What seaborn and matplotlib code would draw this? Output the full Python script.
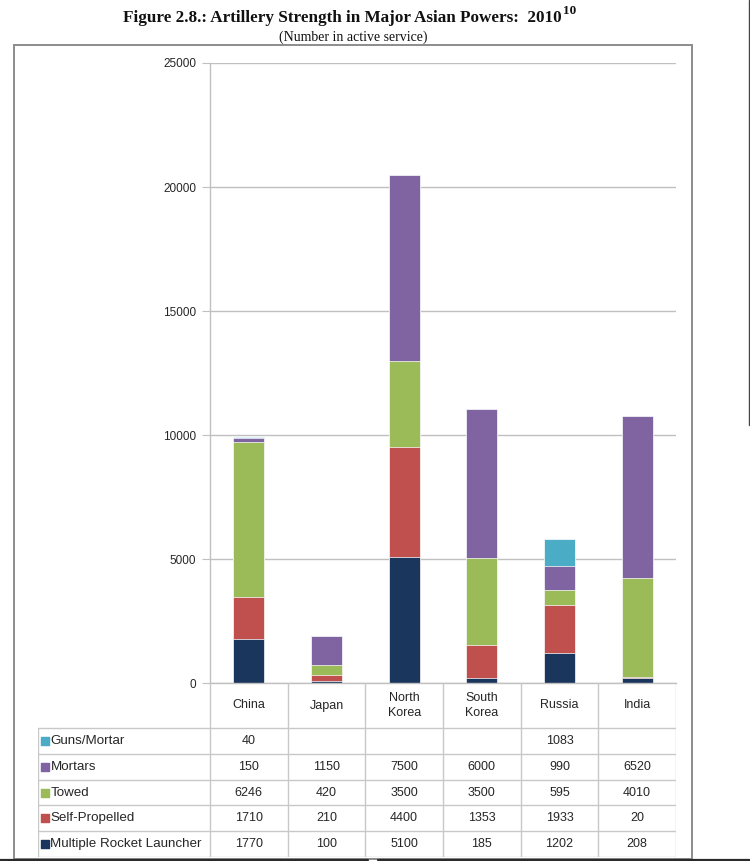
import matplotlib
matplotlib.use('Agg')
import matplotlib.pyplot as plt
import seaborn as sns
import numpy as np
from matplotlib.patches import Rectangle
from matplotlib.lines import Line2D

# --- data ---
countries = ['China', 'Japan', 'North\nKorea', 'South\nKorea', 'Russia', 'India']
series = ['Guns/Mortar', 'Mortars', 'Towed', 'Self-Propelled', 'Multiple Rocket Launcher']
guns = [40, None, None, None, 1083, None]
mortars = [150, 1150, 7500, 6000, 990, 6520]
towed = [6246, 420, 3500, 3500, 595, 4010]
self_prop = [1710, 210, 4400, 1353, 1933, 20]
mrl = [1770, 100, 5100, 185, 1202, 208]
colors = ['#4BACC6', '#8064A2', '#9BBB59', '#C0504D', '#1B365D']

yticks = [0, 5000, 10000, 15000, 20000, 25000]

sns.set_style("white")
plt.rcParams['font.family'] = ['Liberation Sans', 'DejaVu Sans']

W, H = 750, 861
fig = plt.figure(figsize=(W / 100, H / 100), dpi=100)


def fx(x):
    return x / W


def fy(y):
    return 1 - y / H


# outer frame of the chart
fig.patches.append(Rectangle((fx(14), fy(859)), fx(692) - fx(14), fy(45) - fy(859),
                             transform=fig.transFigure, fill=False,
                             edgecolor='#8c8c8c', lw=1.4))
# scan edges
fig.lines.append(Line2D([0, fx(368)], [fy(859.5)] * 2, transform=fig.transFigure, color='#2a2a2a', lw=1.6))
fig.lines.append(Line2D([fx(378), 1], [fy(859.5)] * 2, transform=fig.transFigure, color='#2a2a2a', lw=1.6))
fig.lines.append(Line2D([fx(748.5)] * 2, [fy(0), fy(425)], transform=fig.transFigure, color='#444444', lw=1))

# title
t = fig.text(fx(123), fy(18.5), 'Figure 2.8.: Artillery Strength in Major Asian Powers:  2010',
             family=['Liberation Serif'], weight='bold', fontsize=12.3,
             ha='left', va='center', color='#111111')
fig.canvas.draw()
bb = t.get_window_extent()
fig.text(bb.x1 / W + 0.002, fy(11.5), '10', family=['Liberation Serif'], weight='bold',
         fontsize=9.5, ha='left', va='center', color='#111111')
fig.text(fx(353), fy(37), '(Number in active service)', family=['Liberation Serif'],
         fontsize=10, ha='center', va='center', color='#111111')

# --- stacked bars (cumulative, drawn from top layer down) ---
ax = fig.add_axes([fx(210), fy(683), fx(676) - fx(210), fy(63) - fy(683)])
layers = [mrl, self_prop, towed, mortars, guns]  # bottom -> top
layer_colors = colors[::-1]
vals = np.array([[v if v is not None else 0 for v in lay] for lay in layers], dtype=float)
cum = np.cumsum(vals, axis=0)
for i in range(len(layers) - 1, -1, -1):
    sns.barplot(x=countries, y=cum[i], color=layer_colors[i], width=0.4,
                saturation=1, edgecolor='white', linewidth=0.5, ax=ax)

ax.set_xlim(-0.5, 5.5)
ax.set_ylim(0, 25000)
ax.set_yticks(yticks)
ax.set_yticklabels([str(v) for v in yticks])
ax.set_axisbelow(True)
ax.yaxis.grid(True, color='#c0c0c0', lw=1)
ax.tick_params(axis='x', bottom=False, labelbottom=False)
ax.tick_params(axis='y', left=True, length=6, color='#c0c0c0', labelsize=8.5,
               labelcolor='#262626', pad=4)
ax.set_xlabel('')
ax.set_ylabel('')
for side in ['top', 'right']:
    ax.spines[side].set_visible(False)
for side in ['left', 'bottom']:
    ax.spines[side].set_color('#c0c0c0')
    ax.spines[side].set_linewidth(1)

# --- data table below the chart ---
col_w = (676 - 210) / 6
tax = fig.add_axes([fx(38), fy(857), fx(676) - fx(38), fy(683) - fy(857)])
xmin = -0.5 - (210 - 38) / col_w
tax.set_xlim(xmin, 5.5)
tax.set_ylim(174, 0)
tax.axis('off')

grid_c = '#c8c8c8'
head_h = 45
row_h = (174 - head_h) / 5
for k in range(7):
    tax.plot([k - 0.5, k - 0.5], [0, 174], color=grid_c, lw=1)
tax.plot([xmin, xmin], [head_h, 174], color=grid_c, lw=1)
for r in range(6):
    y = head_h + r * row_h
    tax.plot([xmin, 5.5], [y, y], color=grid_c, lw=1)

for i, name in enumerate(countries):
    tax.text(i, head_h / 2, name, ha='center', va='center', fontsize=9,
             color='#262626', linespacing=1.3)

table_rows = [guns, mortars, towed, self_prop, mrl]
for r, (name, row, c) in enumerate(zip(series, table_rows, colors)):
    yc = head_h + (r + 0.5) * row_h
    tax.scatter([xmin + 6.5 / col_w], [yc], marker='s', s=26, color=c, zorder=3)
    tax.text(xmin + 12.5 / col_w, yc, name, ha='left', va='center', fontsize=9.6,
             color='#262626')
    for i, v in enumerate(row):
        if v is not None:
            tax.text(i, yc, str(v), ha='center', va='center', fontsize=9,
                     color='#262626')

fig.savefig('out.png', dpi=100)
